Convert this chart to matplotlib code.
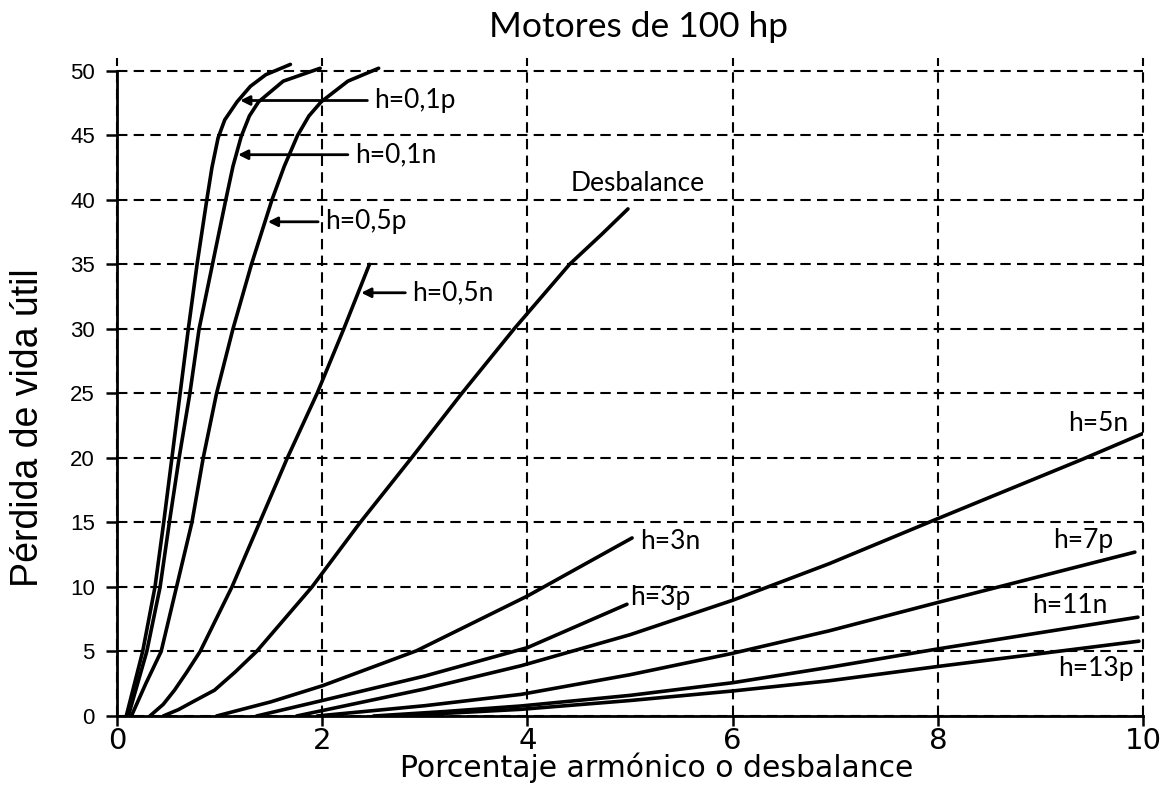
import matplotlib
matplotlib.use('Agg')
import matplotlib.pyplot as plt

# ---------------- data ----------------
x_h01p = [0.09, 0.17, 0.25, 0.37, 0.455, 0.535, 0.615, 0.695, 0.78, 0.875, 0.925, 0.985, 1.05, 1.17, 1.30, 1.45, 1.69]
y_h01p = [0, 2.5, 5, 10, 15, 20, 25, 30, 35, 40, 42.5, 44.8, 46.2, 47.6, 48.8, 49.7, 50.5]

x_h01n = [0.11, 0.20, 0.29, 0.42, 0.51, 0.605, 0.71, 0.80, 0.93, 1.06, 1.13, 1.21, 1.29, 1.38, 1.62, 1.98]
y_h01n = [0, 2.5, 5, 10, 15, 20, 25, 30, 35, 40, 42.6, 44.9, 46.5, 47.6, 49.2, 50.2]

x_h05p = [0.14, 0.28, 0.43, 0.58, 0.73, 0.84, 0.97, 1.13, 1.31, 1.51, 1.63, 1.76, 1.87, 1.99, 2.25, 2.55]
y_h05p = [0, 2.5, 5, 10, 15, 20, 25, 30, 35, 40, 42.6, 45, 46.5, 47.6, 49.2, 50.2]

x_h05n = [0.32, 0.45, 0.56, 0.68, 0.81, 1.12, 1.39, 1.66, 1.95, 2.21, 2.46]
y_h05n = [0, 0.9, 2, 3.4, 5, 10, 15, 20, 25, 30, 35]

x_desb = [0.45, 0.60, 0.75, 0.95, 1.15, 1.36, 1.90, 2.37, 2.87, 3.36, 3.87, 4.41, 4.72, 4.98]
y_desb = [0, 0.5, 1.15, 2.0, 3.4, 5, 10, 15, 20, 25, 30, 35, 37.3, 39.3]

x_h3n = [0.97, 1.5, 2.0, 2.92, 4.0, 5.02]
y_h3n = [0, 1.1, 2.34, 5.06, 9.3, 13.8]

x_h3p = [1.36, 2.0, 3.0, 4.0, 4.97]
y_h3p = [0, 1.2, 3.1, 5.3, 8.66]

x_h5n = [1.75, 3.0, 3.94, 5.0, 6.0, 6.94, 8.0, 9.41, 10.0]
y_h5n = [0, 2.1, 3.9, 6.3, 8.97, 11.8, 15.3, 19.9, 21.9]

x_h7p = [1.95, 3.0, 3.94, 5.0, 6.0, 6.94, 8.0, 9.92]
y_h7p = [0, 0.8, 1.68, 3.2, 4.86, 6.6, 8.8, 12.7]

x_h11n = [2.5, 3.2, 3.94, 5.0, 6.0, 6.94, 8.0, 9.95]
y_h11n = [0, 0.35, 0.78, 1.6, 2.58, 3.77, 5.2, 7.66]

x_h13p = [2.7, 3.3, 3.94, 5.0, 6.0, 6.94, 8.0, 9.96]
y_h13p = [0, 0.25, 0.52, 1.2, 1.94, 2.73, 3.84, 5.8]

x_ticks = [0, 2, 4, 6, 8, 10]
y_ticks = [0, 5, 10, 15, 20, 25, 30, 35, 40, 45, 50]

title = "Motores de 100 hp"
x_label = "Porcentaje armónico o desbalance"
y_label = "Pérdida de vida útil"

# labels with arrows: (text, text x, text y, arrow tip x)
arrow_labels = [
    ("h=0,1p", 2.51, 47.7, 1.20),
    ("h=0,1n", 2.32, 43.5, 1.18),
    ("h=0,5p", 2.03, 38.3, 1.47),
    ("h=0,5n", 2.88, 32.8, 2.38),
]
# plain labels: (text, x, y)
plain_labels = [
    ("Desbalance", 4.42, 41.3),
    ("h=3n", 5.10, 13.5),
    ("h=3p", 5.00, 9.2),
    ("h=5n", 9.27, 22.7),
    ("h=7p", 9.12, 13.6),
    ("h=11n", 8.92, 8.6),
    ("h=13p", 9.17, 3.7),
]

# ---------------- figure ----------------
fig = plt.figure(figsize=(11.69, 7.87), dpi=100)
ax = fig.add_axes([0.1001, 0.0902, 0.8777, 0.8362])
ax.set_xlim(0, 10)
ax.set_ylim(0, 51)

series = [(x_h01p, y_h01p), (x_h01n, y_h01n), (x_h05p, y_h05p), (x_h05n, y_h05n),
          (x_desb, y_desb), (x_h3n, y_h3n), (x_h3p, y_h3p), (x_h5n, y_h5n),
          (x_h7p, y_h7p), (x_h11n, y_h11n), (x_h13p, y_h13p)]
for xs, ys in series:
    ax.plot(xs, ys, color='black', lw=2.6, solid_capstyle='round', solid_joinstyle='round', zorder=3)

ax.set_xticks(x_ticks)
ax.set_yticks(y_ticks)
ax.grid(True, color='black', linestyle=(0, (5, 3)), linewidth=1.5)
for gl in ax.get_xgridlines() + ax.get_ygridlines():
    gl.set_clip_on(False)

for s in ['top', 'right']:
    ax.spines[s].set_visible(False)
ax.spines['left'].set_bounds(0, 50)
ax.spines['left'].set_linewidth(2)
ax.spines['bottom'].set_linewidth(2)

ax.tick_params(axis='y', direction='out', length=8, width=1.8, pad=8, labelsize=16)
ax.tick_params(axis='x', direction='out', length=7, width=1.8, pad=1, labelsize=21)
for lab in ax.get_yticklabels():
    lab.set_family('Liberation Sans')
for lab in ax.get_xticklabels():
    lab.set_family('DejaVu Sans')

fig.text(0.546, 0.966, title, ha='center', va='center', fontsize=25.5, family='Lato')
fig.text(0.562, 0.024, x_label, ha='center', va='center', fontsize=21.5, family='DejaVu Sans')
fig.text(0.024, 0.457, y_label, ha='center', va='center', rotation=90, fontsize=27, family='Liberation Sans')

for txt, tx, ty, tipx in arrow_labels:
    ax.text(tx, ty, txt, ha='left', va='center', fontsize=19, family='Lato')
    ax.annotate('', xy=(tipx, ty), xytext=(tx - 0.07, ty),
                arrowprops=dict(arrowstyle='-|>', color='black', lw=2, mutation_scale=14,
                                shrinkA=0, shrinkB=0))
for txt, tx, ty in plain_labels:
    ax.text(tx, ty, txt, ha='left', va='center', fontsize=19, family='Lato')

fig.savefig('out.png', dpi=100)
